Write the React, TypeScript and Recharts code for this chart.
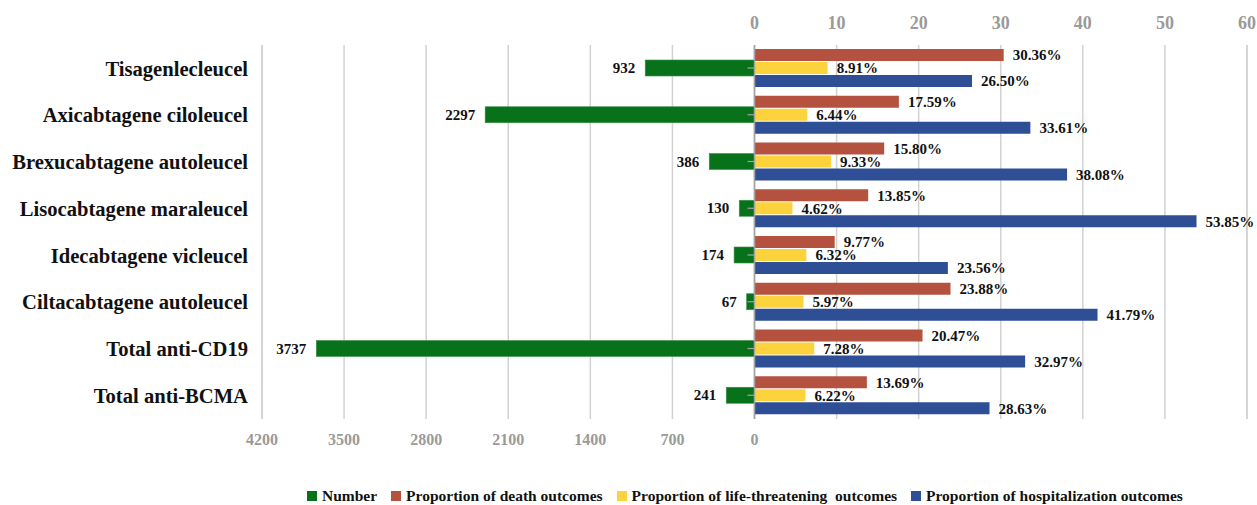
import React from 'react';
import {
    BarChart,
    Bar,
    XAxis,
    YAxis,
    CartesianGrid,
    LabelList,
    ReferenceLine,
} from 'recharts';

const categories = [
    'Tisagenlecleucel',
    'Axicabtagene ciloleucel',
    'Brexucabtagene autoleucel',
    'Lisocabtagene maraleucel',
    'Idecabtagene vicleucel',
    'Ciltacabtagene autoleucel',
    'Total anti-CD19',
    'Total anti-BCMA',
];
const reportCounts = [932, 2297, 386, 130, 174, 67, 3737, 241];
const deathShare = [30.36, 17.59, 15.8, 13.85, 9.77, 23.88, 20.47, 13.69];
const lifeThreatShare = [8.91, 6.44, 9.33, 4.62, 6.32, 5.97, 7.28, 6.22];
const hospitalShare = [26.5, 33.61, 38.08, 53.85, 23.56, 41.79, 32.97, 28.63];

const countTicks = [0, 700, 1400, 2100, 2800, 3500, 4200];
const shareTicks = [0, 10, 20, 30, 40, 50, 60];

const colors = {
    number: '#077219',
    death: '#B4523F',
    life: '#FDD33D',
    hosp: '#2E4E96',
    grid: '#d2d2d2',
    axis: '#a3a3a3',
    tick: '#9a9a9a',
};

const legendItems = [
    { label: 'Number', color: colors.number },
    { label: 'Proportion of death outcomes', color: colors.death },
    { label: 'Proportion of life-threatening  outcomes', color: colors.life },
    { label: 'Proportion of hospitalization outcomes', color: colors.hosp },
];

const rows = categories.map((name, i) => ({
    name,
    number: reportCounts[i],
    death: deathShare[i],
    life: lifeThreatShare[i],
    hosp: hospitalShare[i],
}));

const serif = '"Liberation Serif", "Times New Roman", serif';

// green bar plus the little category tick on the zero line
const CountBar = (props: any) => {
    const { x, y, width, height, fill } = props;
    const left = Math.min(x, x + width);
    const zero = Math.max(x, x + width);
    const cy = y + height / 2;
    return (
        <g>
            <rect x={left} y={y} width={Math.abs(width)} height={height} fill={fill} stroke="#3f8f4a" strokeWidth={0.6} />
            <line x1={zero - 7} x2={zero + 7} y1={cy} y2={cy} stroke={colors.axis} strokeWidth={1.2} />
        </g>
    );
};

// count label sits to the left of the (leftward) green bar
const CountLabel = (props: any) => {
    const box = props.viewBox ?? props;
    const { x, y, width, height } = box;
    const left = Math.min(x, x + width);
    return (
        <text
            x={left - 10}
            y={y + height / 2}
            textAnchor="end"
            dominantBaseline="central"
            fontFamily={serif}
            fontWeight="bold"
            fontSize={15}
            fill="#111"
        >
            {props.value}
        </text>
    );
};

const pctFormat = (v: any) => `${Number(v).toFixed(2)}%`;
const pctLabelStyle = { fontFamily: serif, fontWeight: 'bold', fontSize: 15, fill: '#111' };

const App: React.FC = () => {
    return (
        <div style={{ position: 'absolute', left: 0, top: 0, width: 1257, height: 505, background: '#fff' }}>
            <BarChart
                width={1257}
                height={505}
                data={rows}
                layout="vertical"
                margin={{ top: 15, right: 10, bottom: 56, left: 0 }}
                barCategoryGap="8.5%"
                barGap={1}
                style={{ fontFamily: serif }}
            >
                <CartesianGrid xAxisId="num" yAxisId="pct" horizontal={false} stroke={colors.grid} strokeWidth={1.5} />
                <CartesianGrid xAxisId="pct" yAxisId="pct" horizontal={false} stroke={colors.grid} strokeWidth={1.5} />
                <XAxis
                    xAxisId="pct"
                    type="number"
                    orientation="top"
                    domain={[-60, 60]}
                    ticks={shareTicks}
                    height={30}
                    axisLine={false}
                    tickLine={false}
                    tickMargin={10}
                    tick={{ fill: colors.tick, fontSize: 18, fontWeight: 'bold', fontFamily: serif }}
                />
                <XAxis
                    xAxisId="num"
                    type="number"
                    orientation="bottom"
                    reversed
                    domain={[-4200, 4200]}
                    ticks={countTicks}
                    height={30}
                    axisLine={false}
                    tickLine={false}
                    tickMargin={9}
                    tick={{ fill: colors.tick, fontSize: 16, fontWeight: 'bold', fontFamily: serif }}
                />
                <YAxis
                    yAxisId="pct"
                    type="category"
                    dataKey="name"
                    width={262}
                    axisLine={false}
                    tickLine={false}
                    tickMargin={8}
                    interval={0}
                    tick={{ fill: '#111', fontSize: 20.6, fontWeight: 'bold', fontFamily: serif }}
                />
                <YAxis yAxisId="num" type="category" dataKey="name" width={0} hide />

                <ReferenceLine xAxisId="pct" yAxisId="pct" x={0} stroke={colors.axis} strokeWidth={1.5} />

                <Bar
                    xAxisId="num"
                    yAxisId="num"
                    dataKey="number"
                    name="Number"
                    fill={colors.number}
                    barSize={16}
                    shape={CountBar}
                    isAnimationActive={false}
                >
                    <LabelList dataKey="number" content={CountLabel} />
                </Bar>
                <Bar xAxisId="pct" yAxisId="pct" dataKey="death" name="Proportion of death outcomes" fill={colors.death} isAnimationActive={false}>
                    <LabelList dataKey="death" position="right" offset={9} formatter={pctFormat} style={pctLabelStyle} />
                </Bar>
                <Bar xAxisId="pct" yAxisId="pct" dataKey="life" name="Proportion of life-threatening outcomes" fill={colors.life} isAnimationActive={false}>
                    <LabelList dataKey="life" position="right" offset={9} formatter={pctFormat} style={pctLabelStyle} />
                </Bar>
                <Bar xAxisId="pct" yAxisId="pct" dataKey="hosp" name="Proportion of hospitalization outcomes" fill={colors.hosp} isAnimationActive={false}>
                    <LabelList dataKey="hosp" position="right" offset={9} formatter={pctFormat} style={pctLabelStyle} />
                </Bar>
            </BarChart>

            <div
                style={{
                    position: 'absolute',
                    left: 307,
                    top: 487,
                    display: 'flex',
                    alignItems: 'center',
                    gap: 14,
                    whiteSpace: 'pre',
                    fontFamily: serif,
                    fontWeight: 'bold',
                    fontSize: 15.5,
                    color: '#111',
                }}
            >
                {legendItems.map((item) => (
                    <div key={item.label} style={{ display: 'flex', alignItems: 'center', gap: 5 }}>
                        <span style={{ display: 'inline-block', width: 10, height: 10, background: item.color }} />
                        <span>{item.label}</span>
                    </div>
                ))}
            </div>
        </div>
    );
};

export default App;
